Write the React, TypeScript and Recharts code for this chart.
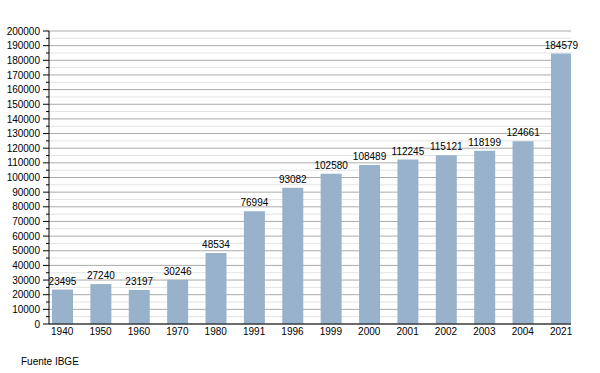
import React from 'react';
import { BarChart, Bar, XAxis, YAxis, CartesianGrid, LabelList } from 'recharts';

const years = ['1940', '1950', '1960', '1970', '1980', '1991', '1996', '1999', '2000', '2001', '2002', '2003', '2004', '2021'];
const population = [23495, 27240, 23197, 30246, 48534, 76994, 93082, 102580, 108489, 112245, 115121, 118199, 124661, 184579];
const yTicks = Array.from({ length: 41 }, (_, i) => i * 5000);
const majorTicks = yTicks.filter((v) => v % 10000 === 0);
const minorTicks = yTicks.filter((v) => v % 10000 !== 0);
const sourceNote = 'Fuente IBGE';

const data = years.map((y, i) => ({ idx: i, year: y, value: population[i] }));
const xTicks = years.map((_, i) => i);

const FONT = '"Liberation Sans", Arial, Helvetica, sans-serif';
const BAR_COLOR = '#99b2cc';

const YTick = (props: any) => {
  const { x, y, payload } = props;
  const v = payload.value as number;
  const major = v % 10000 === 0;
  return (
    <g>
      <line x1={x - (major ? 6 : 3)} x2={x} y1={y} y2={y} stroke="#000" strokeWidth={1} />
      {major && (
        <text x={x - 9} y={y} dy="0.36em" textAnchor="end" fontSize={10} fontFamily={FONT} fill="#000">
          {v}
        </text>
      )}
    </g>
  );
};

const XTick = (props: any) => {
  const { x, y, payload } = props;
  return (
    <text x={x} y={y} dy={10.5} textAnchor="middle" fontSize={10} fontFamily={FONT} fill="#000">
      {years[payload.value]}
    </text>
  );
};

export default function App() {
  return (
    <div style={{ position: 'absolute', left: 0, top: 0, width: 600, height: 373, background: '#fff' }}>
      <BarChart
        width={600}
        height={373}
        data={data}
        margin={{ top: 31, right: 29, bottom: 0, left: 0 }}
      >
        <CartesianGrid vertical={false} horizontalValues={minorTicks} stroke="#e3e3e3" strokeWidth={1} />
        <CartesianGrid vertical={false} horizontalValues={majorTicks} stroke="#ababab" strokeWidth={1} />
        <XAxis
          dataKey="idx"
          type="number"
          domain={[-0.3437, 13.257]}
          allowDataOverflow
          ticks={xTicks}
          interval={0}
          height={49}
          tickLine={false}
          tickSize={0}
          tickMargin={0}
          tick={<XTick />}
          axisLine={{ stroke: '#000', strokeWidth: 1 }}
        />
        <YAxis
          type="number"
          domain={[0, 200000]}
          ticks={yTicks}
          interval={0}
          width={49}
          tickLine={false}
          tickSize={0}
          tickMargin={0}
          tick={<YTick />}
          axisLine={{ stroke: '#000', strokeWidth: 1 }}
        />
        <Bar dataKey="value" fill={BAR_COLOR} barSize={21} isAnimationActive={false}>
          <LabelList
            dataKey="value"
            position="top"
            offset={5}
            fontSize={10}
            fontFamily={FONT}
            fill="#000"
          />
        </Bar>
      </BarChart>
      <div
        style={{
          position: 'absolute',
          left: 21,
          top: 356,
          fontSize: 10,
          lineHeight: '12px',
          fontFamily: FONT,
          color: '#000',
        }}
      >
        {sourceNote}
      </div>
    </div>
  );
}
